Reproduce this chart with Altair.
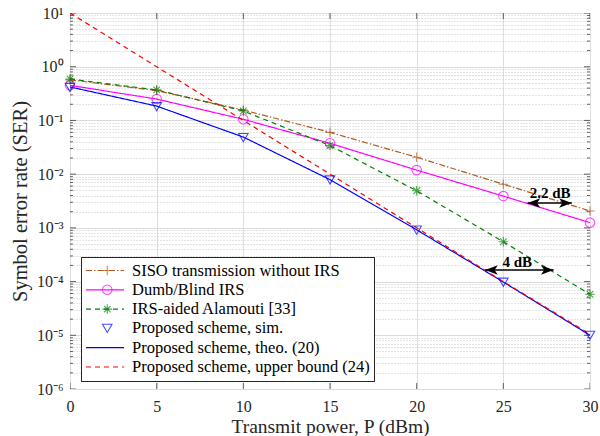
import altair as alt
import pandas as pd
import json
import math

# ---------------- data ----------------
P = [0, 5, 10, 15, 20, 25, 30]
siso = [0.57, 0.36, 0.156, 0.060, 0.0206, 0.0065, 0.00206]
dumb = [0.45, 0.25, 0.105, 0.0375, 0.0119, 0.0039, 0.00125]
alamouti = [0.59, 0.37, 0.15, 0.034, 0.0049, 0.00055, 5.8e-5]
sim = [0.41, 0.18, 0.048, 0.0078, 0.00091, 9.7e-5, 1.0e-5]
theo = [0.42, 0.185, 0.049, 0.0079, 0.00092, 9.8e-5, 1.0e-5]
upper = [10, 1, 0.1, 0.01, 0.001, 1.0e-4, 1.05e-5]

names = [
    "SISO transmission without IRS",
    "Dumb/Blind IRS",
    "IRS-aided Alamouti [33]",
    "Proposed scheme, sim.",
    "Proposed scheme, theo. (20)",
    "Proposed scheme, upper bound (24)",
]
series_values = [siso, dumb, alamouti, sim, theo, upper]
has_line = [True, True, True, False, True, True]
has_marker = [True, True, True, True, False, False]

# annotations
ann_text = ["2.2 dB", "4 dB"]
ann_text_P = [27.7, 25.8]
ann_text_SER = [0.0044, 2.28e-4]
arrow_P1 = [26.4, 23.95]
arrow_P2 = [28.95, 27.9]
arrow_SER = [0.0029, 1.64e-4]

x_ticks = [0, 5, 10, 15, 20, 25, 30]
y_ticks = []
for k in range(-6, 1):
    for m in range(1, 10):
        y_ticks.append(m * 10.0 ** k)
y_ticks.append(10.0)
x_domain = [0, 30]
y_domain = [1e-6, 10]

# ---------------- styles ----------------
colors = ["#B05A1E", "#FF00FF", "#008000", "#0000FF", "#0000FF", "#FF0000"]
dashes = [[6, 2, 1.5, 2], [1, 0], [5, 4], [0, 1000], [1, 0], [5, 4]]
plus = "M-1,0L1,0M0,-1L0,1"
aster = "M-1,0L1,0M0,-1L0,1M-0.7,-0.7L0.7,0.7M-0.7,0.7L0.7,-0.7"
shapes = [plus, "circle", aster, "triangle-down", "M0,0", "M0,0"]
FONT = "Liberation Serif"
TXT = "#262626"

rows_l, rows_p = [], []
for name, vals, hl, hm in zip(names, series_values, has_line, has_marker):
    for p, v in zip(P, vals):
        if hl:
            rows_l.append({"P": p, "SER": v, "series": name})
        if hm:
            rows_p.append({"P": p, "SER": v, "marker": name})
line_df = pd.DataFrame(rows_l)
pt_df = pd.DataFrame(rows_p)
arrow_df = pd.DataFrame({"P": arrow_P1, "P2": arrow_P2, "SER": arrow_SER})
head_df = pd.DataFrame({
    "P": arrow_P1 + arrow_P2,
    "SER": arrow_SER + arrow_SER,
    "side": ["L"] * len(arrow_P1) + ["R"] * len(arrow_P2),
})
text_df = pd.DataFrame({"P": ann_text_P, "SER": ann_text_SER, "label": ann_text})


def is_major(v):
    return abs(math.log10(v) - round(math.log10(v))) < 1e-6


ytick_rows = []
for v in y_ticks:
    for edge in x_domain:
        ytick_rows.append({"P": edge, "SER": v, "len": 12 if is_major(v) else 6})
ytick_df = pd.DataFrame(ytick_rows)
xtick_rows = []
for p in x_ticks:
    for edge in y_domain:
        xtick_rows.append({"P": p, "SER": edge, "len": 12})
xtick_df = pd.DataFrame(xtick_rows)

major_test = "abs(log(datum.value)/LN10 - round(log(datum.value)/LN10)) < 0.01"
label_expr = (
    major_test + " ? '10' + (round(log(datum.value)/LN10) < 0 ? '\u207b' : '') + "
    "['\u2070','\u00b9','\u00b2','\u00b3','\u2074','\u2075','\u2076'][abs(round(log(datum.value)/LN10))] : ''"
)
dash_expr = "[" + ",".join(json.dumps(d) for d in dashes) + "][indexof(" + json.dumps(names) + ", datum.value)]"

xscale = alt.Scale(domain=x_domain, nice=False, zero=False)
yscale = alt.Scale(type="log", domain=y_domain, nice=False)
xaxis = alt.Axis(
    values=x_ticks, title="Transmit power, P (dBm)", grid=True, gridColor="#dedede",
    ticks=False, domain=False, labelPadding=9, labelFontSize=16, labelFont=FONT,
    labelColor=TXT, titleFont=FONT, titleFontSize=19.5, titleFontWeight="normal",
    titleColor=TXT, titlePadding=3, labelFlush=False,
)
yaxis = alt.Axis(
    values=y_ticks, title="Symbol error rate (SER)", grid=True,
    gridColor={"condition": {"test": major_test, "value": "#dcdcdc"}, "value": "#c8c8c8"},
    gridDash={"condition": {"test": major_test, "value": []}, "value": [1, 2]},
    ticks=False, domain=False, labelExpr=label_expr, labelPadding=7,
    labelFontSize=16, labelFont=FONT, labelColor=TXT, titleFont=FONT,
    titleFontSize=20.5, titleFontWeight="normal", titleColor=TXT, titlePadding=6,
    labelFlush=False, labelOverlap=False,
)

X = alt.X("P:Q", scale=xscale, axis=xaxis)
Y = alt.Y("SER:Q", scale=yscale, axis=yaxis)

legA = alt.Legend(
    orient="none", legendX=11, legendY=244, title=None, symbolType="stroke",
    symbolSize=1444, symbolStrokeWidth=1.2, clipHeight=19, rowPadding=0.3,
    padding=4, labelOffset=7, labelFont=FONT, labelFontSize=16.5, labelColor="black",
    labelLimit=400, fillColor="white", strokeColor="#262626", zindex=0,
    symbolDash={"expr": dash_expr},
)
legB = alt.Legend(
    orient="none", legendX=25, legendY=244, title=None, symbolSize=90,
    symbolStrokeWidth=1.1, clipHeight=19, rowPadding=0.3, padding=4,
    labelOffset=7, labelFont=FONT, labelFontSize=16.5, labelExpr="''",
    labelLimit=400, zindex=1,
)

ytk = alt.Chart(ytick_df).mark_tick(orient="horizontal", color=TXT, thickness=1, clip=True).encode(
    x=X, y=Y, size=alt.Size("len:Q", scale=None),
)
xtk = alt.Chart(xtick_df).mark_tick(orient="vertical", color=TXT, thickness=1, clip=True).encode(
    x=X, y=Y, size=alt.Size("len:Q", scale=None),
)
lines = alt.Chart(line_df).mark_line(strokeWidth=1.2, clip=True).encode(
    x=X, y=Y,
    color=alt.Color("series:N", scale=alt.Scale(domain=names, range=colors), legend=legA),
    strokeDash=alt.StrokeDash("series:N", scale=alt.Scale(domain=names, range=dashes), legend=legA),
)
points = alt.Chart(pt_df).mark_point(filled=False, strokeWidth=1.1).encode(
    x=X, y=Y,
    color=alt.Color("marker:N", scale=alt.Scale(domain=names, range=colors), legend=legB),
    shape=alt.Shape("marker:N", scale=alt.Scale(domain=names, range=shapes), legend=legB),
    size=alt.value(90),
)
arrows = alt.Chart(arrow_df).mark_rule(color="black", strokeWidth=1.5).encode(
    x=X, x2="P2:Q", y=Y,
)
heads = alt.Chart(head_df).mark_point(filled=True, color="black", opacity=1).encode(
    x=X, y=Y,
    shape=alt.Shape("side:N", scale=alt.Scale(
        domain=["L", "R"],
        range=["M0,0L2,-0.75L1.5,0L2,0.75Z", "M0,0L-2,-0.75L-1.5,0L-2,0.75Z"]), legend=None),
    size=alt.value(160),
)
texts = alt.Chart(text_df).mark_text(
    font=FONT, fontSize=15, fontWeight="bold", color="black", baseline="middle"
).encode(x=X, y=Y, text="label:N")

chart = alt.layer(ytk, xtk, lines, points, arrows, heads, texts).resolve_scale(
    color="independent", shape="independent", size="independent"
).resolve_legend(color="independent", shape="independent").properties(
    width=520, height=376,
    autosize=alt.AutoSizeParams(type="none"),
    padding={"left": 70, "top": 13, "right": 10, "bottom": 47},
).configure_view(stroke=TXT, strokeWidth=1).configure(background="white")

chart.save("out.html", embed_options={"renderer": "svg", "actions": False})
